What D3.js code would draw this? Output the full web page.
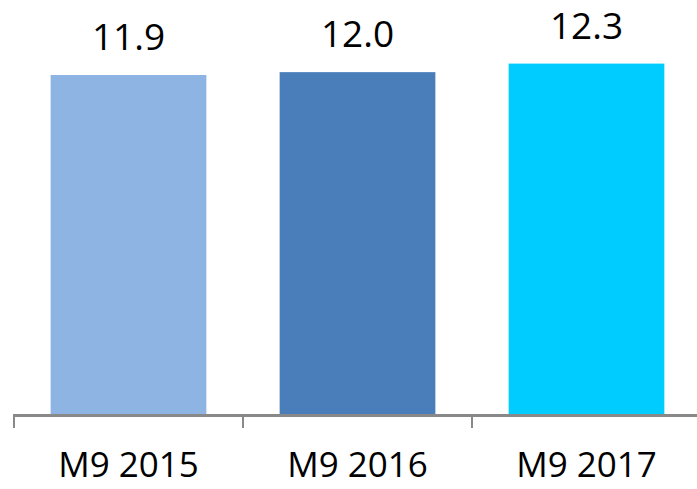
<!DOCTYPE html>
<html lang="en">
<head>
  <meta charset="utf-8" />
  <title>M9 bars</title>
  <style type="text/css">
    body { margin: 0; background: #fff; }
    text { font-family: "Open Sans", "Liberation Sans", sans-serif; fill: #000; }
  </style>
</head>
<body>
  <div id="graphic"></div>

  <script src="https://cdn.jsdelivr.net/npm/d3@7"></script>
  <script>
    var categories = ["M9 2015", "M9 2016", "M9 2017"];
    var values = [11.9, 12.0, 12.3];
    var labels = ["11.9", "12.0", "12.3"];
    var colours = ["#8EB4E3", "#4A7EBB", "#00CCFF"];

    var width = 697, height = 489;
    var margin = {left: 14};

    var svg = d3.select('#graphic').append('svg')
      .attr('width', width)
      .attr('height', height);

    var x = d3.scaleBand()
      .domain(categories)
      .range([margin.left, margin.left + 3 * 229])
      .paddingInner(0.32)
      .paddingOuter(0.16);

    // baseline at y=414, scale from zero
    var y = d3.scaleLinear()
      .domain([0, 12.3])
      .range([414, 63.6]);

    var data = categories.map(function(c, i) {
      return {cat: c, value: values[i], label: labels[i], colour: colours[i]};
    });

    svg.selectAll('rect.bar')
      .data(data)
      .enter()
      .append('rect')
        .attr('class', 'bar')
        .attr('x', function(d) { return x(d.cat); })
        .attr('width', x.bandwidth())
        .attr('y', function(d) { return y(d.value); })
        .attr('height', function(d) { return y(0) - y(d.value); })
        .attr('fill', function(d) { return d.colour; });

    // axis line with ticks at band edges
    var axisG = svg.append('g');
    axisG.append('line')
      .attr('x1', margin.left - 1).attr('x2', width)
      .attr('y1', y(0) + 1.5).attr('y2', y(0) + 1.5)
      .attr('stroke', '#898989').attr('stroke-width', 3);
    var tickX = categories.map(function(c, i) { return margin.left + i * x.step(); });
    axisG.selectAll('line.tick')
      .data(tickX)
      .enter()
      .append('line')
        .attr('class', 'tick')
        .attr('x1', function(d) { return d; }).attr('x2', function(d) { return d; })
        .attr('y1', y(0)).attr('y2', y(0) + 14)
        .attr('stroke', '#898989').attr('stroke-width', 2);

    svg.selectAll('text.cat')
      .data(data)
      .enter()
      .append('text')
        .attr('class', 'cat')
        .attr('x', function(d) { return x(d.cat) + x.bandwidth() / 2; })
        .attr('y', 477)
        .attr('text-anchor', 'middle')
        .style('font-size', '35px')
        .text(function(d) { return d.cat; });

    svg.selectAll('text.val')
      .data(data)
      .enter()
      .append('text')
        .attr('class', 'val')
        .attr('x', function(d) { return x(d.cat) + x.bandwidth() / 2; })
        .attr('y', function(d) { return y(d.value) - 25; })
        .attr('text-anchor', 'middle')
        .style('font-size', '37px')
        .text(function(d) { return d.label; });
  </script>
</body>
</html>
